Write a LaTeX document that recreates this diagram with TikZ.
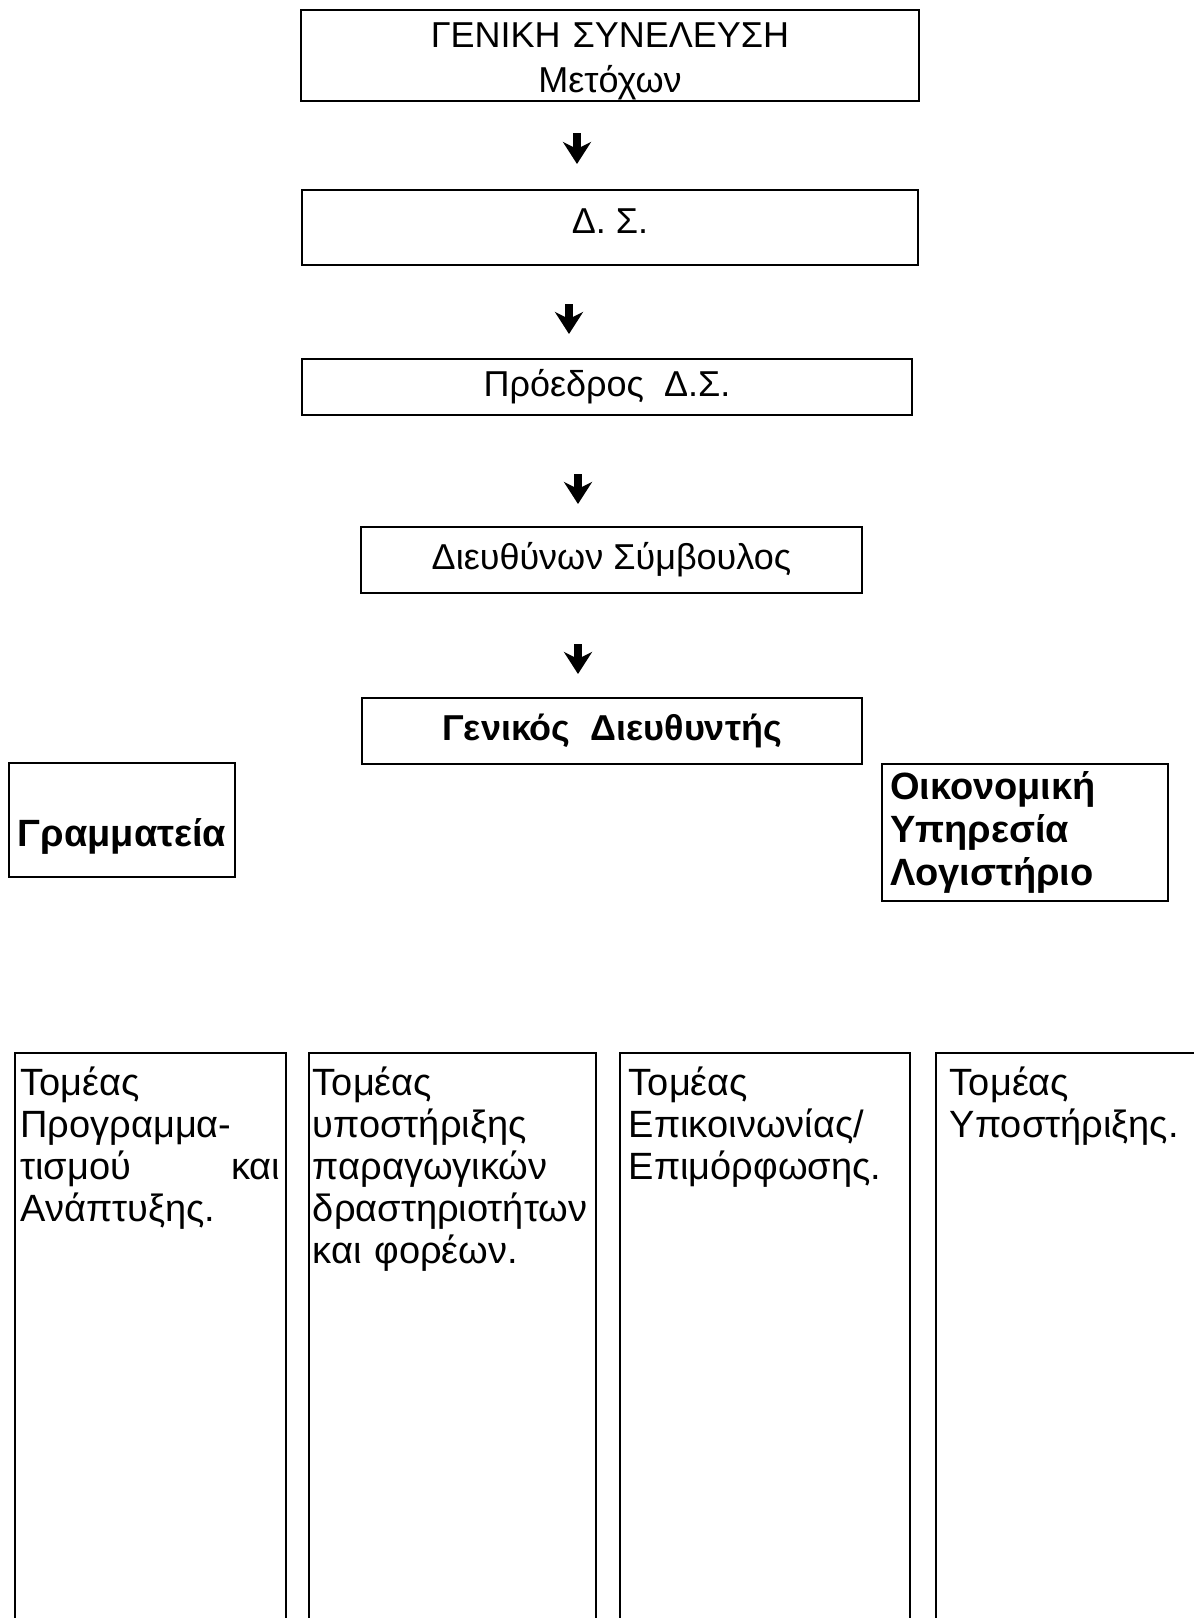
\documentclass[tikz,border=0pt]{standalone}
\usepackage{fontspec}
\setmainfont{Liberation Sans}
\usetikzlibrary{arrows.meta}

\tikzset{
	box/.style={draw, line width=1pt, inner sep=0pt, align=center, font=\fontsize{18}{22.5}\selectfont},
	boldbox/.style={box, font=\fontsize{19}{21.5}\selectfont\bfseries},
	sector/.style={draw, line width=0.9pt, anchor=north west, inner ysep=0pt, align=left, text height=21.5pt, text depth=330pt, font=\fontsize{19}{21}\selectfont},
	down/.style={-{Stealth[length=11pt,width=14pt,inset=3.5pt]}, line width=4.2pt},
}

\begin{document}
\begin{tikzpicture}[x=0.5pt, y=-0.5pt]
	\useasboundingbox (0,0) rectangle (1194,1618);
	\clip (0,0) rectangle (1194,1618);
	% Board chain
	\node[box, text width=309pt, minimum height=45.5pt, text height=13pt, text depth=20.6pt] (gs) at (610,55.5) {ΓΕΝΙΚΗ ΣΥΝΕΛΕΥΣΗ\\Μετόχων};
	\node[box, minimum width=308pt, minimum height=37.5pt, text height=13pt, text depth=7.5pt] (ds) at (610,227.5) {Δ. Σ.};
	\node[box, minimum width=305pt, minimum height=28pt] (pr) at (607,387) {Πρόεδρος\ \ Δ.Σ.};
	\node[box, minimum width=250.5pt, minimum height=33pt] (ceo) at (611.5,560) {Διευθύνων Σύμβουλος};
	\node[box, font=\fontsize{18}{22}\selectfont\bfseries, minimum width=250pt, minimum height=33pt] (gd) at (612,731) {Γενικός\ \ Διευθυντής};
	
	\draw[down] ([xshift=-16.5pt,yshift=-15.5pt]gs.south) -- ([xshift=-16.5pt,yshift=12.5pt]ds.north);
	\draw[down] ([xshift=-20.5pt,yshift=-19pt]ds.south) -- ([xshift=-19pt,yshift=12pt]pr.north);
	\draw[down] ([xshift=-14.5pt,yshift=-29pt]pr.south) -- ([xshift=-16.75pt,yshift=11pt]ceo.north);
	\draw[down] ([xshift=-16.75pt,yshift=-25pt]ceo.south) -- ([xshift=-17pt,yshift=11.5pt]gd.north);
	
	% Staff units
	\node[boldbox, minimum width=113pt, minimum height=57pt, text height=30pt, text depth=3.4pt] (gram) at (122,820) {Γραμματεία};
	\node[boldbox, align=left, text width=135pt, inner xsep=4pt, minimum height=68.5pt] (oik) at (1025,832.5) {Οικονομική\\Υπηρεσία\\Λογιστήριο};
	
	% Sectors
	\node[sector, inner xsep=2.75pt, text width=130pt] (s1) at (14,1052) {Τομέας\\Προγραμμα-\\τισμού \hfill και\\Ανάπτυξης.};
	\node[sector, inner xsep=2pt, text width=139.5pt] (s2) at (308,1052) {Τομέας\\υποστήριξης\\παραγωγικών\\δραστηριοτήτων\\και φορέων.};
	\node[sector, inner xsep=4.5pt, text width=136pt] (s3) at (619,1052) {Τομέας\\Επικοινωνίας/\\Επιμόρφωσης.};
	\node[sector, inner xsep=7pt, text width=146pt] (s4) at (935,1052) {Τομέας\\Υποστήριξης.};
\end{tikzpicture}
\end{document}
